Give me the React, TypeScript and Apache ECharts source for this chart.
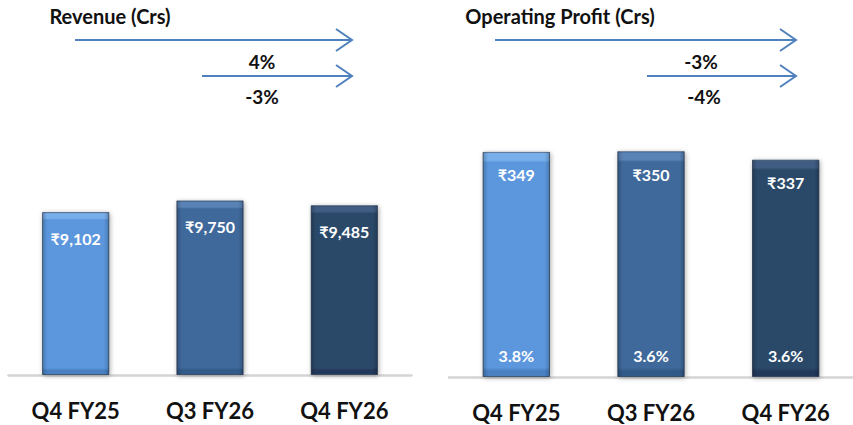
import React, { useEffect, useRef } from "react";
import * as echarts from "echarts";

const categories = ["Q4 FY25", "Q3 FY26", "Q4 FY26"];
const revenue = [9102, 9750, 9485];
const opProfit = [349, 350, 337];
const opMargin = ["3.8%", "3.6%", "3.6%"];
const revenueGrowth = ["4%", "-3%"];
const profitGrowth = ["-3%", "-4%"];
const titles = ["Revenue (Crs)", "Operating Profit (Crs)"];

const FONT = "Lato, 'Open Sans', sans-serif";
const palette = [
  { top: "#78AEEA", body: "#5B97DD", bottom: "#4A80C2" },
  { top: "#5A83B5", body: "#3F699B", bottom: "#335A88" },
  { top: "#405C82", body: "#2C4869", bottom: "#22395A" },
];

function barItem(v: number, i: number) {
  const p = palette[i];
  return {
    value: v,
    itemStyle: {
      color: new echarts.graphic.LinearGradient(0, 0, 0, 1, [
        { offset: 0, color: p.top },
        { offset: 0.035, color: p.top },
        { offset: 0.045, color: p.body },
        { offset: 0.96, color: p.body },
        { offset: 0.975, color: p.bottom },
        { offset: 1, color: p.bottom },
      ]),
      borderColor: "rgba(20,40,70,0.55)",
      borderWidth: 1,
      shadowBlur: 5,
      shadowColor: "rgba(0,0,0,0.35)",
      shadowOffsetX: 1,
      shadowOffsetY: 1,
    },
  };
}

const sideShade = new echarts.graphic.LinearGradient(1, 0, 0, 0, [
  { offset: 0, color: "rgba(0,0,0,0.22)" },
  { offset: 0.08, color: "rgba(0,0,0,0.0)" },
  { offset: 0.92, color: "rgba(0,0,0,0.0)" },
  { offset: 1, color: "rgba(0,0,0,0.22)" },
]);

function arrow(x1: number, x2: number, y: number) {
  return [
    {
      type: "line",
      shape: { x1, y1: y, x2: x2 - 1, y2: y },
      style: { stroke: "#4F81BD", lineWidth: 2 },
    },
    {
      type: "polyline",
      shape: { points: [[x2 - 16, y - 11], [x2, y], [x2 - 16, y + 11]] },
      style: { stroke: "#4F81BD", lineWidth: 2, fill: "none" },
    },
  ];
}

function txt(x: number, y: number, text: string, size: number) {
  return {
    type: "text",
    x,
    y,
    style: {
      text,
      fontFamily: FONT,
      fontWeight: "bold",
      fontSize: size,
      fill: "#111",
      textAlign: "center",
      textVerticalAlign: "middle",
    },
  };
}

export default function App() {
  const ref = useRef<HTMLDivElement>(null);
  useEffect(() => {
    if (!ref.current) return;
    const chart = echarts.init(ref.current, null, { renderer: "svg" });
    const axisCommon = {
      type: "category" as const,
      data: categories,
      axisTick: { show: false },
      axisLine: { lineStyle: { color: "#D4D4D4", width: 2.5 } },
      axisLabel: {
        fontFamily: FONT,
        fontWeight: "bold",
        fontSize: 22,
        color: "#111",
        margin: 24,
      },
    };
    const valCommon = {
      type: "value" as const,
      min: 0,
      show: false,
      splitLine: { show: false },
    };
    chart.setOption({
      animation: false,
      grid: [
        { left: 8.5, width: 403, top: 17, height: 358 },
        { left: 449, width: 411, top: 119, height: 258 },
      ],
      xAxis: [
        { ...axisCommon, gridIndex: 0 },
        { ...axisCommon, gridIndex: 1 },
      ],
      yAxis: [
        { ...valCommon, gridIndex: 0, max: 20000 },
        { ...valCommon, gridIndex: 1, max: 400 },
      ],
      series: [
        {
          type: "bar",
          xAxisIndex: 0,
          yAxisIndex: 0,
          barWidth: "50%",
          data: revenue.map(barItem),
          label: {
            show: true,
            position: "insideTop",
            distance: 18,
            formatter: (p: any) => "₹" + p.value.toLocaleString("en-US"),
            color: "#fff",
            fontFamily: FONT,
            fontWeight: "bold",
            fontSize: 16,
          },
        },
        {
          type: "bar",
          xAxisIndex: 0,
          yAxisIndex: 0,
          barWidth: "50%",
          barGap: "-100%",
          silent: true,
          data: revenue,
          itemStyle: { color: sideShade },
        },
        {
          type: "bar",
          xAxisIndex: 1,
          yAxisIndex: 1,
          barWidth: "50%",
          data: opProfit.map(barItem),
          label: {
            show: true,
            position: "insideTop",
            distance: 15,
            formatter: (p: any) => "₹" + p.value,
            color: "#fff",
            fontFamily: FONT,
            fontWeight: "bold",
            fontSize: 16,
          },
        },
        {
          type: "bar",
          xAxisIndex: 1,
          yAxisIndex: 1,
          barWidth: "50%",
          barGap: "-100%",
          silent: true,
          data: opProfit,
          itemStyle: { color: sideShade },
          label: {
            show: true,
            position: "insideBottom",
            distance: 14,
            formatter: (p: any) => opMargin[p.dataIndex],
            color: "#fff",
            fontFamily: FONT,
            fontWeight: "bold",
            fontSize: 16,
          },
        },
      ],
      graphic: [
        txt(110, 16, titles[0], 20),
        txt(560, 16, titles[1], 20),
        ...arrow(75, 352, 40),
        ...arrow(202, 352, 76),
        txt(262, 61, revenueGrowth[0], 19),
        txt(262, 96, revenueGrowth[1], 19),
        ...arrow(495, 796, 40),
        ...arrow(647, 796, 76),
        txt(701, 61, profitGrowth[0], 19),
        txt(704, 96, profitGrowth[1], 19),
      ],
    });
    return () => chart.dispose();
  }, []);
  return (
    <div
      ref={ref}
      style={{ position: "fixed", left: 0, top: 0, width: 853, height: 425, overflow: "hidden", background: "#fff" }}
    />
  );
}
